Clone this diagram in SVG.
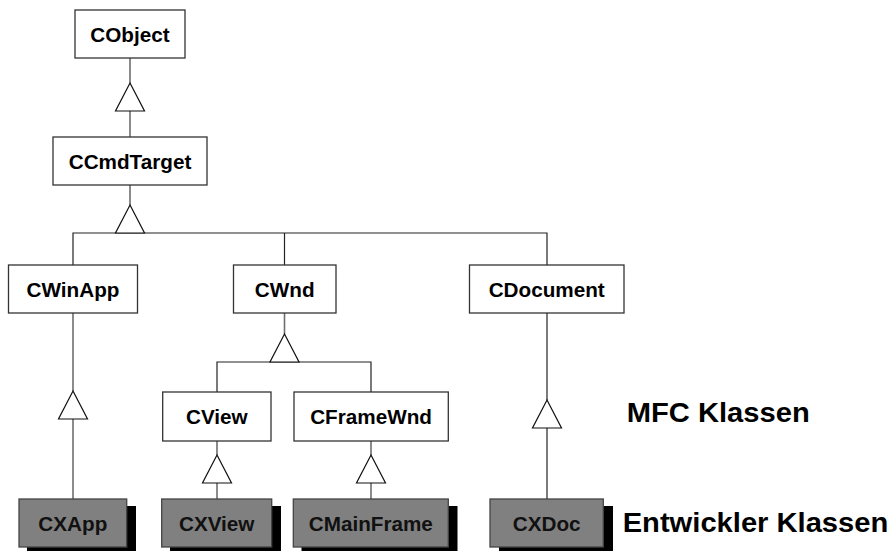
<svg xmlns="http://www.w3.org/2000/svg" width="893" height="551" viewBox="0 0 893 551">
  <style>
    .box { fill: #ffffff; stroke: #333333; stroke-width: 1.3; }
    .dev { fill: #808080; stroke: #444444; stroke-width: 1.3; }
    .shadow { fill: #000000; }
    .lbl { font-family: "Liberation Sans", Arial, sans-serif; font-weight: bold; font-size: 20.7px; text-anchor: middle; fill: #000000; }
    .dlbl { fill: #111111; }
    .big { font-family: "Liberation Sans", Arial, sans-serif; font-weight: bold; font-size: 27px; fill: #000000; }
    .stem { stroke: #6e6e6e; stroke-width: 1.6; fill: none; }
    .bar { stroke: #222222; stroke-width: 1.2; fill: none; }
    .tri { fill: #ffffff; stroke: #111111; stroke-width: 1.2; }
  </style>

  <!-- inheritance connectors -->
  <g id="connectors">
    <!-- CObject <- CCmdTarget -->
    <line class="stem" x1="130" y1="58" x2="130" y2="83"/>
    <line class="stem" x1="130" y1="111" x2="130" y2="137"/>
    <polygon class="tri" points="130,83 144.5,111 115.5,111"/>

    <!-- CCmdTarget <- CWinApp, CWnd, CDocument -->
    <line class="stem" x1="130" y1="185" x2="130" y2="205"/>
    <polyline class="bar" points="73,265 73,233 547,233 547,265"/>
    <line class="bar" x1="284.5" y1="233" x2="284.5" y2="265"/>
    <polygon class="tri" points="130,205 144.5,233 115.5,233"/>

    <!-- CWnd <- CView, CFrameWnd -->
    <line class="stem" x1="284.5" y1="313" x2="284.5" y2="334"/>
    <polyline class="bar" points="217,392 217,362 371,362 371,392"/>
    <polygon class="tri" points="284.5,334 299,362 270,362"/>

    <!-- CWinApp <- CXApp -->
    <line class="stem" x1="73" y1="313" x2="73" y2="391"/>
    <line class="stem" x1="73" y1="419" x2="73" y2="499"/>
    <polygon class="tri" points="73,391 87.5,419 58.5,419"/>

    <!-- CDocument <- CXDoc -->
    <line class="bar" x1="547" y1="313" x2="547" y2="400"/>
    <line class="bar" x1="547" y1="428" x2="547" y2="499"/>
    <polygon class="tri" points="547,400 561.5,428 532.5,428"/>

    <!-- CView <- CXView -->
    <line class="stem" x1="217" y1="441" x2="217" y2="455"/>
    <line class="stem" x1="217" y1="483" x2="217" y2="499"/>
    <polygon class="tri" points="217,455 231.5,483 202.5,483"/>

    <!-- CFrameWnd <- CMainFrame -->
    <line class="stem" x1="371" y1="441" x2="371" y2="455"/>
    <line class="stem" x1="371" y1="483" x2="371" y2="499"/>
    <polygon class="tri" points="371,455 385.5,483 356.5,483"/>
  </g>

  <!-- MFC classes -->
  <g id="CObject">
    <rect class="box" x="75" y="10" width="110" height="48"/>
    <text class="lbl" x="130" y="41.5">CObject</text>
  </g>
  <g id="CCmdTarget">
    <rect class="box" x="53" y="137" width="154" height="48"/>
    <text class="lbl" x="130" y="168.5">CCmdTarget</text>
  </g>
  <g id="CWinApp">
    <rect class="box" x="8.5" y="265" width="129" height="48"/>
    <text class="lbl" x="73" y="296.5">CWinApp</text>
  </g>
  <g id="CWnd">
    <rect class="box" x="233.5" y="265" width="102.5" height="48"/>
    <text class="lbl" x="284.7" y="296.5">CWnd</text>
  </g>
  <g id="CDocument">
    <rect class="box" x="469.5" y="265" width="154.5" height="48"/>
    <text class="lbl" x="546.7" y="296.5">CDocument</text>
  </g>
  <g id="CView">
    <rect class="box" x="162.7" y="392" width="108.3" height="49"/>
    <text class="lbl" x="216.8" y="424">CView</text>
  </g>
  <g id="CFrameWnd">
    <rect class="box" x="294" y="392" width="154.3" height="49"/>
    <text class="lbl" x="371.1" y="424">CFrameWnd</text>
  </g>

  <!-- developer classes -->
  <g id="CXApp">
    <rect class="shadow" x="27" y="506" width="109" height="48"/>
    <rect class="dev" x="19" y="499" width="107.7" height="48"/>
    <text class="lbl dlbl" x="72.8" y="530.5">CXApp</text>
  </g>
  <g id="CXView">
    <rect class="shadow" x="170" y="506" width="111" height="48"/>
    <rect class="dev" x="161.7" y="499" width="110" height="48"/>
    <text class="lbl dlbl" x="216.7" y="530.5">CXView</text>
  </g>
  <g id="CMainFrame">
    <rect class="shadow" x="301.5" y="506" width="156" height="48"/>
    <rect class="dev" x="293.3" y="499" width="155" height="48"/>
    <text class="lbl dlbl" x="370.8" y="530.5">CMainFrame</text>
  </g>
  <g id="CXDoc">
    <rect class="shadow" x="499" y="506" width="114" height="48"/>
    <rect class="dev" x="490" y="499" width="113.3" height="48"/>
    <text class="lbl dlbl" x="546.7" y="530.5">CXDoc</text>
  </g>

  <!-- layer captions -->
  <g id="captions">
    <text class="big" x="626.7" y="421.7" textLength="183" lengthAdjust="spacingAndGlyphs">MFC Klassen</text>
    <text class="big" x="622.7" y="531.7" textLength="265.6" lengthAdjust="spacingAndGlyphs">Entwickler Klassen</text>
  </g>
</svg>
